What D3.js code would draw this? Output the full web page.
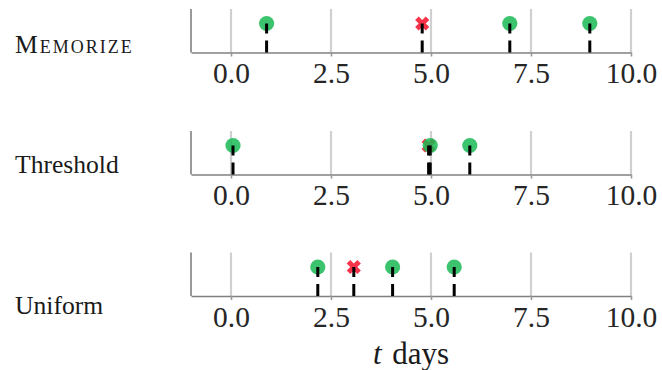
<!DOCTYPE html>
<html><head><meta charset="utf-8">
<script src="https://cdn.jsdelivr.net/npm/d3@7"></script>
<style>html,body{margin:0;padding:0;background:#fff;}</style>
</head><body>
<script>
// ---- data ----
const methods = ["Memorize", "Threshold", "Uniform"];
const recalledTimes = [[0.89, 6.97, 8.97], [0.05, 4.98, 5.97], [2.17, 4.04, 5.58]];
const forgottenTimes = [[4.78], [4.94], [3.07]];
const xTicks = [0, 2.5, 5, 7.5, 10];
const xDomain = [-1, 10];
const yDomain = [0, 1.5];
const eventLevel = 1;
const xLabel = "days";

// ---- layout ----
const W = 662, H = 370;
const panelBottoms = [52.5, 174.5, 296];
const panelH = 43.5;
const labelBaselines = [52.5, 173, 314];
const serif = "'Liberation Serif', 'Times New Roman', serif";

const svg = d3.select("body").append("svg").attr("width", W).attr("height", H);
const x = d3.scaleLinear().domain(xDomain).range([191, 631]);

methods.forEach((m, i) => {
  const bottom = panelBottoms[i];
  const top = bottom - panelH;
  const y = d3.scaleLinear().domain(yDomain).range([bottom, top]);
  const g = svg.append("g");

  // grid
  g.selectAll(".grid").data(xTicks).enter().append("line")
    .attr("x1", d => x(d)).attr("x2", d => x(d))
    .attr("y1", top).attr("y2", bottom)
    .attr("stroke", "#d0d0d0").attr("stroke-width", 2.2);

  // x axis
  const ax = g.append("g").attr("transform", `translate(0,${bottom})`)
    .call(d3.axisBottom(x).tickValues(xTicks).tickFormat(d3.format(".1f")).tickSize(4).tickSizeOuter(0));
  ax.select(".domain").attr("stroke", "#808080").attr("stroke-width", 1.6);
  ax.selectAll(".tick line").attr("stroke", "#999").attr("stroke-width", 1.6);
  ax.selectAll(".tick text").attr("font-family", serif).attr("font-size", 29.5)
    .attr("fill", "#262626").attr("y", 0).attr("dy", 30.5);

  // left spine
  g.append("line").attr("x1", x(xDomain[0])).attr("x2", x(xDomain[0]))
    .attr("y1", top).attr("y2", bottom)
    .attr("stroke", "#808080").attr("stroke-width", 1.6);

  // forgotten (red X)
  g.selectAll(".fx").data(forgottenTimes[i]).enter().append("path")
    .attr("d", d3.symbol().type(d3.symbolCross).size(125))
    .attr("transform", d => `translate(${x(d)},${y(eventLevel)}) rotate(45)`)
    .attr("fill", "#f5283f").attr("fill-opacity", 0.95);

  // recalled (green circles)
  g.selectAll(".rc").data(recalledTimes[i]).enter().append("circle")
    .attr("cx", d => x(d)).attr("cy", y(eventLevel)).attr("r", 7.6)
    .attr("fill", "rgb(25,185,85)").attr("fill-opacity", 0.85);

  // stems (dashed, from axis up to event level)
  const all = forgottenTimes[i].concat(recalledTimes[i]);
  g.selectAll(".stem").data(all).enter().append("line")
    .attr("x1", d => x(d)).attr("x2", d => x(d))
    .attr("y1", y(0)).attr("y2", y(eventLevel))
    .attr("stroke", "#000").attr("stroke-width", 3)
    .attr("stroke-dasharray", "12,7");

  // method label
  const t = g.append("text").attr("x", 15).attr("y", labelBaselines[i])
    .attr("font-family", serif).attr("font-size", 25.6).attr("fill", "#1a1a1a");
  if (i === 0) {
    t.attr("font-variant", "small-caps").attr("letter-spacing", 2).text(m);
  } else {
    t.text(m);
  }
});

// x label
const xl = svg.append("text").attr("x", x((xDomain[0] + xDomain[1]) / 2)).attr("y", 364)
  .attr("text-anchor", "middle").attr("font-family", serif).attr("font-size", 31).attr("fill", "#1a1a1a");
xl.append("tspan").attr("font-style", "italic").text("t");
xl.append("tspan").attr("dx", 3).text(" " + xLabel);
</script>
</body></html>
